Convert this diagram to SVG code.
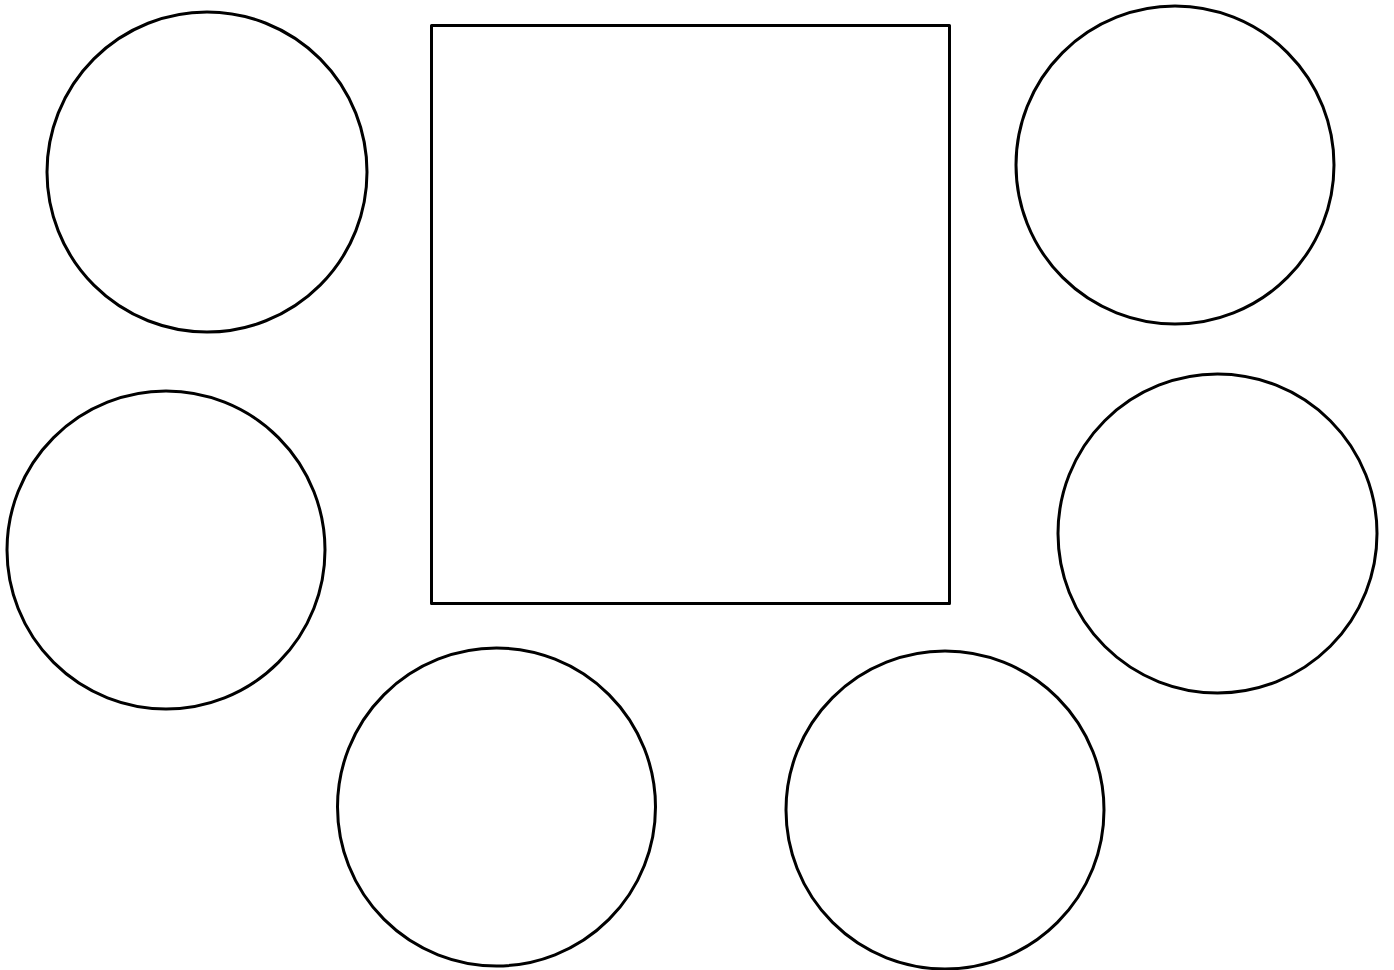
<svg xmlns="http://www.w3.org/2000/svg" width="1394" height="970" viewBox="0 0 1394 970">
<style>
.s{fill:#fff;stroke:#000;stroke-width:3}
</style>
<rect width="1394" height="970" fill="#fff"/>
<g id="box"><rect class="s" x="431.5" y="25.5" width="518" height="578" stroke-linejoin="round"/></g>
<g id="c1"><circle class="s" cx="207" cy="172" r="160"/></g>
<g id="c2"><circle class="s" cx="1175" cy="165" r="159"/></g>
<g id="c3"><circle class="s" cx="166" cy="550" r="159"/></g>
<g id="c4"><circle class="s" cx="1217.5" cy="533.5" r="159.5"/></g>
<g id="c5"><circle class="s" cx="496.5" cy="807" r="159"/></g>
<g id="c6"><circle class="s" cx="945" cy="810" r="159"/></g>
<g id="connectors"></g>
</svg>
